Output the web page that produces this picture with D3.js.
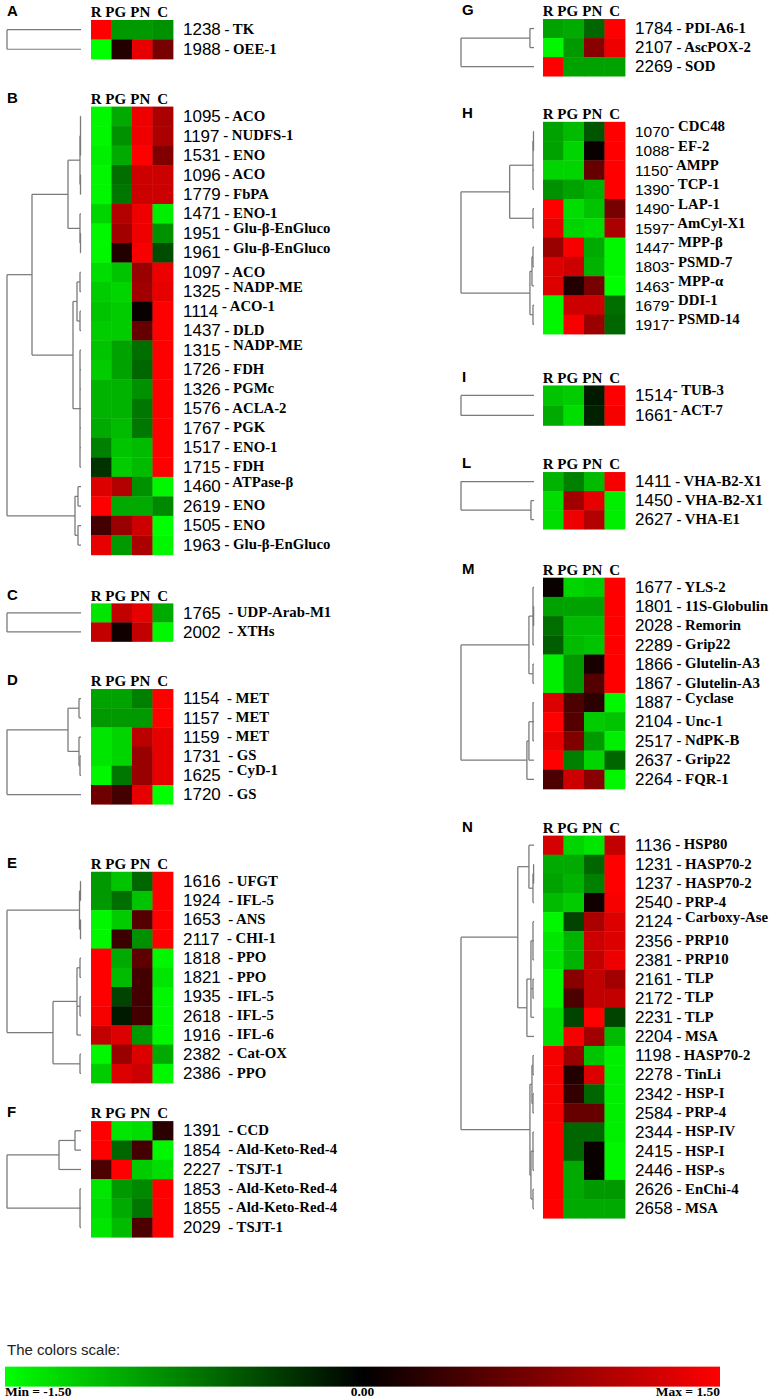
<!DOCTYPE html>
<html><head><meta charset="utf-8">
<script src="https://cdn.jsdelivr.net/npm/d3@7/dist/d3.min.js"></script>
<style>body{margin:0;background:#fff}svg{display:block}</style>
</head><body>
<script>
// ---------- DATA ----------
const columns = ["R","PG","PN","C"];

const panelA_ids = ["1238","1988"];
const panelA_names = ["TK","OEE-1"];
const panelA_values = [[1.5,-0.9,-0.9,-0.85],[-1.5,0.2,1.35,0.7]];
const panelA_tree = [74,0,1];

const panelB_ids = ["1095","1197","1531","1096","1779","1471","1951","1961","1097","1325","1114","1437","1315","1726","1326","1576","1767","1517","1715","1460","2619","1505","1963"];
const panelB_names = ["ACO","NUDFS-1","ENO","ACO","FbPA","ENO-1","Glu-β-EnGluco","Glu-β-EnGluco","ACO","NADP-ME","ACO-1","DLD","NADP-ME","FDH","PGMc","ACLA-2","PGK","ENO-1","FDH","ATPase-β","ENO","ENO","Glu-β-EnGluco"];
const panelB_values = [
 [-1.45,-1.0,1.4,1.0],[-1.45,-0.85,1.4,1.0],[-1.4,-1.0,1.5,0.75],[-1.45,-0.65,1.2,1.2],[-1.45,-0.7,1.2,1.2],
 [-1.25,1.05,1.4,-1.4],[-1.45,0.95,1.4,-0.85],[-1.45,0.2,1.45,-0.45],[-1.3,-1.15,0.9,1.4],[-1.2,-1.25,0.95,1.35],
 [-1.15,-1.2,0.05,1.5],[-1.2,-1.2,0.6,1.5],[-1.15,-0.95,-0.65,1.5],[-1.2,-0.95,-0.6,1.5],[-1.05,-1.05,-0.85,1.5],
 [-1.05,-1.05,-0.7,1.5],[-1.0,-1.1,-0.7,1.5],[-0.75,-1.15,-1.1,1.5],[-0.3,-1.2,-1.1,1.5],[1.3,1.05,-0.85,-1.45],
 [1.5,-1.0,-1.0,-0.8],[0.4,0.9,1.2,-1.5],[1.35,-0.9,1.0,-1.45]];
const panelB_tree = [74,[49,[13,[1,[0.5,0,1,2],[0.5,3,4]],[1,5,[0.5,6,7]]],[8,[4,[1,8,9],[1,10,11]],[1,12,13,14,15,16,17,18]]],[6,[3,19,20],[3,21,22]]];

const panelC_ids = ["1765","2002"];
const panelC_names = ["UDP-Arab-M1","XTHs"];
const panelC_values = [[-1.35,1.15,1.35,-1.0],[1.15,0.1,1.15,-1.45]];
const panelC_tree = [74,0,1];

const panelD_ids = ["1154","1157","1159","1731","1625","1720"];
const panelD_names = ["MET","MET","MET","GS","CyD-1","GS"];
const panelD_values = [[-0.95,-0.95,-0.75,1.5],[-0.9,-0.9,-0.9,1.5],[-1.35,-1.25,1.1,1.35],[-1.35,-1.25,0.9,1.35],[-1.45,-0.7,0.9,1.35],[0.65,0.4,1.35,-1.5]];
const panelD_tree = [74,[13,[2,0,1],[2,2,[1,3,4]]],5];

const panelE_ids = ["1616","1924","1653","2117","1818","1821","1935","2618","1916","2382","2386"];
const panelE_names = ["UFGT","IFL-5","ANS","CHI-1","PPO","PPO","IFL-5","IFL-5","IFL-6","Cat-OX","PPO"];
const panelE_values = [[-0.9,-1.15,-0.6,1.5],[-0.9,-0.65,-1.15,1.5],[-1.45,-1.2,0.5,1.5],[-1.45,0.35,-0.85,1.5],
 [1.5,-1.0,0.55,-1.45],[1.5,-1.1,0.4,-1.35],[1.5,-0.4,0.4,-1.45],[1.45,-0.15,0.4,-1.45],[1.15,1.3,-0.9,-1.45],
 [-1.45,0.9,1.3,-1.0],[-1.2,1.3,1.2,-1.45]];
const panelE_tree = [74,[1.5,[0.5,0,1],[0.5,2,3]],[28,[4,[1,4,5],[1,6,7],8],[1,9,10]]];

const panelF_ids = ["1391","1854","2227","1853","1855","2029"];
const panelF_names = ["CCD","Ald-Keto-Red-4","TSJT-1","Ald-Keto-Red-4","Ald-Keto-Red-4","TSJT-1"];
const panelF_values = [[1.5,-1.35,-1.3,0.25],[1.5,-0.6,0.4,-1.45],[0.45,1.5,-1.2,-1.3],[-1.35,-0.9,-0.8,1.5],[-1.3,-1.0,-0.7,1.5],[-1.35,-1.1,0.45,1.5]];
const panelF_tree = [74,[22,[6,0,1],2],[1,3,4,5]];

const panelG_ids = ["1784","2107","2269"];
const panelG_names = ["PDI-A6-1","AscPOX-2","SOD"];
const panelG_values = [[-0.95,-1.0,-0.6,1.5],[-1.45,-0.9,0.8,1.4],[1.5,-0.95,-0.95,-0.95]];
const panelG_tree = [72,[4,0,1],2];

const panelH_ids = ["1070","1088","1150","1390","1490","1597","1447","1803","1463","1679","1917"];
const panelH_names = ["CDC48","EF-2","AMPP","TCP-1","LAP-1","AmCyl-X1","MPP-β","PSMD-7","MPP-α","DDI-1","PSMD-14"];
const panelH_values = [[-0.95,-1.1,-0.5,1.5],[-0.95,-1.25,0.05,1.5],[-1.25,-1.25,0.6,1.5],[-0.85,-0.95,-1.05,1.5],
 [1.5,-1.3,-1.15,0.7],[1.35,-1.25,-1.3,1.0],[0.9,1.45,-1.0,-1.45],[1.3,1.2,-1.05,-1.45],[1.3,0.2,0.7,-1.5],
 [-1.45,1.2,1.2,-0.65],[-1.45,1.45,0.9,-0.6]];
const panelH_tree = [72,[24,[1,[0.5,0,1],2,3],[1,4,5]],[4,[2,[1,6,7],8],[1,9,10]]];

const panelI_ids = ["1514","1661"];
const panelI_names = ["TUB-3","ACT-7"];
const panelI_values = [[-1.15,-1.2,-0.15,1.5],[-1.0,-1.3,-0.2,1.45]];
const panelI_tree = [72,0,1];

const panelL_ids = ["1411","1450","2627"];
const panelL_names = ["VHA-B2-X1","VHA-B2-X1","VHA-E1"];
const panelL_values = [[-1.05,-0.75,-1.1,1.45],[-1.3,0.95,1.35,-1.4],[-1.3,1.4,1.05,-1.4]];
const panelL_tree = [72,0,[3,1,2]];

const panelM_ids = ["1677","1801","2028","2289","1866","1867","1887","2104","2517","2637","2264"];
const panelM_names = ["YLS-2","11S-Globulin","Remorin","Grip22","Glutelin-A3","Glutelin-A3","Cyclase","Unc-1","NdPK-B","Grip22","FQR-1"];
const panelM_values = [[0.05,-1.25,-1.2,1.5],[-0.95,-0.95,-0.95,1.5],[-0.65,-1.1,-1.1,1.5],[-0.55,-1.1,-1.15,1.5],
 [-1.4,-0.9,0.15,1.5],[-1.4,-0.9,0.5,1.5],[1.3,0.45,0.25,-1.45],[1.5,0.5,-1.2,-1.15],[1.35,0.75,-0.9,-1.4],
 [1.5,-0.75,-1.25,-0.6],[0.45,1.2,0.8,-1.45]];
const panelM_tree = [72,[5,[1,0,[0.4,1,2],3],[1,4,5]],[7,[5,[1,6,7,8],9],10]];

const panelN_ids = ["1136","1231","1237","2540","2124","2356","2381","2161","2172","2231","2204","1198","2278","2342","2584","2344","2415","2446","2626","2658"];
const panelN_names = ["HSP80","HASP70-2","HASP70-2","PRP-4","Carboxy-Ase","PRP10","PRP10","TLP","TLP","TLP","MSA","HASP70-2","TinLi","HSP-I","PRP-4","HSP-IV","HSP-I","HSP-s","EnChi-4","MSA"];
const panelN_values = [[1.25,-1.25,-1.35,1.15],[-1.0,-1.0,-0.6,1.5],[-0.95,-1.05,-0.75,1.5],[-1.1,-1.2,0.1,1.45],
 [-1.45,-0.4,1.0,1.3],[-1.35,-1.05,1.2,1.3],[-1.35,-1.05,1.15,1.4],[-1.45,0.8,1.15,0.95],[-1.45,0.45,1.15,1.15],
 [-1.3,-0.4,1.5,-0.4],[-1.3,1.45,0.95,-1.1],[1.45,0.9,-1.15,-1.4],[1.45,0.2,1.3,-1.4],[1.45,0.3,-0.6,-1.4],
 [1.45,0.6,0.6,-1.4],[1.5,-0.6,-0.6,-1.4],[1.5,-0.6,0.05,-1.45],[1.5,-1.0,0.05,-1.45],[1.5,-1.0,-0.9,-0.9],[1.5,-1.0,-1.0,-1.0]];
const panelN_tree = [72,[16,[5,0,[1,[0.4,1,2],3]],[7,[3,[1,4,5,6],[1,7,8],9],10]],[4,[2,[1,11,12],[1,13,14]],[3,[1,15,16,17],[1,18,19]]]];

const scaleTicks = [-1.5, 0, 1.5];
const scaleLabels = ["Min = -1.50","0.00","Max = 1.50"];

// ---------- LAYOUT (drawn in a 776 x 1470 frame, squeezed to 1399) ----------
const panels = [
 {key:"A",ids:panelA_ids,names:panelA_names,values:panelA_values,tree:panelA_tree,col:0,top:21,h:41,sep:" - ",raised:[],num:17},
 {key:"B",ids:panelB_ids,names:panelB_names,values:panelB_values,tree:panelB_tree,col:0,top:112,h:471,sep:" - ",raised:["1951","1961","1325","1114","1460","1315"],num:17},
 {key:"C",ids:panelC_ids,names:panelC_names,values:panelC_values,tree:panelC_tree,col:0,top:634,h:40,sep:"  - ",raised:[],num:17},
 {key:"D",ids:panelD_ids,names:panelD_names,values:panelD_values,tree:panelD_tree,col:0,top:724,h:121,sep:"  - ",raised:["1625"],num:17},
 {key:"E",ids:panelE_ids,names:panelE_names,values:panelE_values,tree:panelE_tree,col:0,top:916,h:222,sep:"  - ",raised:[],num:17},
 {key:"F",ids:panelF_ids,names:panelF_names,values:panelF_values,tree:panelF_tree,col:0,top:1178,h:122,sep:"  - ",raised:[],num:17},
 {key:"G",ids:panelG_ids,names:panelG_names,values:panelG_values,tree:panelG_tree,col:1,top:20,h:60,sep:" - ",raised:[],num:17},
 {key:"H",ids:panelH_ids,names:panelH_names,values:panelH_values,tree:panelH_tree,col:1,top:128,h:223,sep:"- ",raised:panelH_ids,num:15.5},
 {key:"I",ids:panelI_ids,names:panelI_names,values:panelI_values,tree:panelI_tree,col:1,top:405,h:42,sep:"- ",raised:panelI_ids,num:17},
 {key:"L",ids:panelL_ids,names:panelL_names,values:panelL_values,tree:panelL_tree,col:1,top:496,h:60,sep:" - ",raised:[],num:17},
 {key:"M",ids:panelM_ids,names:panelM_names,values:panelM_values,tree:panelM_tree,col:1,top:607,h:222,sep:" - ",raised:["1887"],num:17},
 {key:"N",ids:panelN_ids,names:panelN_names,values:panelN_values,tree:panelN_tree,col:1,top:878,h:402,sep:" - ",raised:["2124"],num:17}
];
const colGeom = [
 {hx:91, leafX:81, rootX:7, letterX:7},
 {hx:543, leafX:534, rootX:461, letterX:462}
];
const HM_W = 82;
const FRAME_H = 1470;

const color = d3.scaleLinear().domain(scaleTicks).range(["#00ff00","#000000","#ff0000"]).clamp(true);

const svg = d3.select("body").append("svg").attr("width",776).attr("height",1399);
svg.append("rect").attr("width",776).attr("height",1399).attr("fill","#fff");
const root0 = svg.append("g").attr("transform",`scale(1,${1399/FRAME_H})`);

const headerShift = [-5,-6,-2,0];

panels.forEach(p => {
  const g = colGeom[p.col];
  const n = p.ids.length;
  const x = d3.scaleBand().domain(columns).range([g.hx, g.hx + HM_W]);
  const y = d3.scaleBand().domain(d3.range(n)).range([p.top, p.top + p.h]);
  const G = root0.append("g");

  G.append("text").attr("x", g.letterX).attr("y", p.top - 4)
    .attr("font-family","Liberation Sans, Arial, sans-serif").attr("font-weight","bold")
    .attr("font-size",15).text(p.key);

  G.selectAll(".hd").data(columns).join("text")
    .attr("x",(c,i)=>x(c)+x.bandwidth()/2+headerShift[i]).attr("y",p.top-3)
    .attr("text-anchor","middle")
    .attr("font-family","Liberation Serif, Times New Roman, serif").attr("font-weight","bold")
    .attr("font-size",15).text(c=>c);

  p.values.forEach((row,i) => {
    G.selectAll(null).data(row).join("rect")
      .attr("x",(v,j)=>x(columns[j])).attr("y",y(i))
      .attr("width",x.bandwidth()+0.4).attr("height",y.bandwidth()+0.4)
      .attr("fill",v=>color(v));
  });

  p.ids.forEach((id,i) => {
    const t = G.append("text").attr("x", g.hx + HM_W + 10).attr("y", y(i) + y.bandwidth()/2 + 6)
      .style("white-space","pre");
    t.append("tspan").attr("font-family","Liberation Sans, Arial, sans-serif").attr("font-size",p.num).text(id);
    t.append("tspan").attr("font-family","Liberation Serif, Times New Roman, serif").attr("font-weight","bold")
      .attr("font-size",14.8).attr("dy", p.raised.includes(id) ? -6 : -1.5).text(p.sep + p.names[i]);
  });

  const root = d3.hierarchy(p.tree, d => Array.isArray(d) ? d.slice(1) : null);
  const hOf = d => Array.isArray(d) ? d[0] : 0;
  const xd = d3.scaleLinear().domain([0, hOf(p.tree)]).range([g.leafX, g.rootX]);
  root.eachAfter(nd => {
    if (!nd.children) nd.yy = y(nd.data) + y.bandwidth()/2;
    else nd.yy = (nd.children[0].yy + nd.children[nd.children.length-1].yy)/2;
  });
  const segs = [];
  root.each(nd => {
    if (!nd.children) return;
    const xx = xd(hOf(nd.data));
    segs.push([xx, nd.children[0].yy, xx, nd.children[nd.children.length-1].yy]);
    nd.children.forEach(ch => segs.push([xx, ch.yy, xd(hOf(ch.data)), ch.yy]));
  });
  G.selectAll(".sg").data(segs).join("line")
    .attr("x1",d=>d[0]).attr("y1",d=>d[1]).attr("x2",d=>d[2]).attr("y2",d=>d[3])
    .attr("stroke","#7a7a7a").attr("stroke-width",1.3);
});

// ---------- COLOR SCALE ----------
const defs = svg.append("defs");
const grad = defs.append("linearGradient").attr("id","cs");
scaleTicks.forEach((v,i) => grad.append("stop").attr("offset", (i/(scaleTicks.length-1)*100)+"%").attr("stop-color", color(v)));
const sx = d3.scaleLinear().domain([-1.5,1.5]).range([5,720]);
root0.append("text").attr("x",7).attr("y",1424).attr("font-family","Liberation Sans, Arial, sans-serif")
  .attr("font-size",15).attr("fill","#222").text("The colors scale:");
root0.append("rect").attr("x",sx(-1.5)).attr("y",1436).attr("width",sx(1.5)-sx(-1.5)).attr("height",21).attr("fill","url(#cs)");
root0.selectAll(".sl").data(scaleTicks).join("text")
  .attr("x",d=>sx(d)).attr("y",1467)
  .attr("text-anchor",(d,i)=>["start","middle","end"][i])
  .attr("font-family","Liberation Serif, Times New Roman, serif").attr("font-weight","bold").attr("font-size",13.5)
  .text((d,i)=>scaleLabels[i]);
</script>
</body></html>
